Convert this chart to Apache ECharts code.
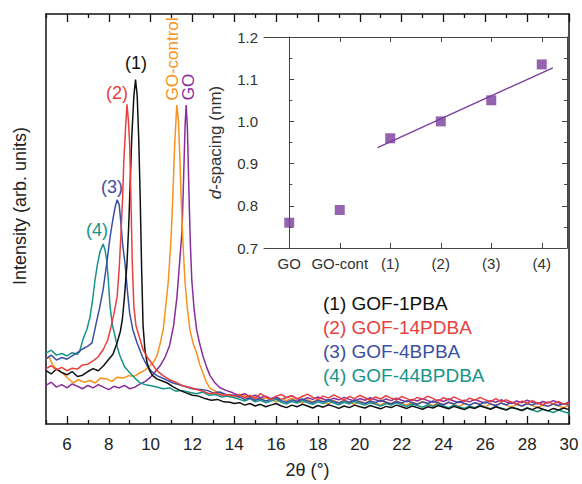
<!DOCTYPE html>
<html><head><meta charset="utf-8">
<script src="https://cdn.jsdelivr.net/npm/echarts@6/dist/echarts.min.js"></script>
<style>html,body{margin:0;padding:0;background:#fff}#c{width:582px;height:484px}</style>
</head><body><div id="c"></div>
<script>
// ---- main XRD data (2θ, intensity arb. units) ----
const blackCore = [[5.0,13.0],[5.25,12.2],[5.5,13.4],[5.75,12.6],[6.0,12.0],[6.25,12.8],[6.5,11.6],[6.75,11.9],[7.0,12.8],[7.25,13.5],[7.5,13.0],[7.75,14.2],[8.0,15.8],[8.2,17.0],[8.4,19.8],[8.55,22.5],[8.65,25.5],[8.75,31],[8.87,39],[8.95,48],[9.02,58],[9.1,70],[9.2,80],[9.28,84],[9.36,80],[9.43,70],[9.5,56],[9.57,38],[9.64,24],[9.73,18],[9.83,15],[9.95,13],[10.1,11.8],[10.3,11.0],[10.5,10.6],[10.8,10.0],[11.1,9.0],[11.4,8.2],[11.7,7.6],[12.0,7.0],[12.3,6.8],[12.6,6.2],[12.9,5.8],[13.2,6.0],[13.5,5.4],[13.8,5.3],[14.0,5.0]];
const redCore = [[5.0,13.5],[5.25,14.2],[5.5,13.2],[5.75,13.8],[6.0,13.0],[6.25,13.6],[6.5,13.4],[6.75,14.4],[7.0,14.6],[7.25,15.4],[7.5,16.4],[7.75,18.3],[7.95,20.5],[8.1,23.5],[8.25,27],[8.4,31],[8.5,38],[8.58,46],[8.66,55],[8.72,64],[8.8,72],[8.87,78],[8.94,74],[9.0,68],[9.06,55],[9.12,40],[9.2,28.7],[9.3,24],[9.45,21.4],[9.65,18],[9.85,16.2],[10.0,15.2],[10.3,13],[10.6,11.8],[10.9,10.8],[11.2,10.2],[11.5,9.4],[11.9,8.9],[12.2,8.4],[12.5,8.0],[12.8,7.4],[13.1,7.6],[13.4,7.0],[13.7,7.2],[14.0,6.8]];
const blueCore = [[5.0,15.9],[5.25,16.8],[5.5,15.6],[5.75,16.2],[6.0,15.8],[6.25,16.6],[6.5,17.4],[6.75,18.3],[7.0,19.0],[7.2,19.8],[7.4,24.6],[7.55,28],[7.73,32.8],[7.9,39],[8.06,45.5],[8.2,50],[8.3,52.8],[8.4,54.7],[8.5,53.5],[8.58,49],[8.66,44],[8.78,39],[8.9,32],[9.0,27],[9.15,23],[9.35,19.8],[9.6,16.5],[9.83,14.2],[10.05,12.8],[10.3,11.8],[10.7,10.9],[11.07,10.0],[11.5,9.4],[12.0,8.6],[12.4,8.4],[12.7,8.2],[13.0,7.6],[13.3,7.8],[13.6,7.2],[14.0,7.0]];
const tealCore = [[5.0,17.3],[5.25,18.0],[5.5,16.8],[5.75,17.2],[6.0,16.6],[6.25,17.4],[6.5,17.0],[6.6,17.6],[6.77,20.7],[6.95,23],[7.1,26],[7.22,30],[7.34,35],[7.46,39],[7.58,42],[7.73,43.9],[7.82,42.5],[7.9,40],[7.98,35],[8.06,28.7],[8.18,24],[8.3,21.4],[8.42,18.5],[8.54,16.6],[8.75,14],[9.0,12.5],[9.25,11.2],[9.5,10.0],[9.75,9.6],[9.97,9.4],[10.3,9.0],[10.6,8.6],[10.9,8.8],[11.2,8.0],[11.5,8.2],[11.9,7.7],[12.2,7.4],[12.5,7.8],[12.8,7.0],[13.1,7.2],[13.4,6.6],[13.7,6.8],[14.0,6.4]];
const orangeCore = [[5.0,15.9],[5.15,16.4],[5.3,14.6],[5.5,13.4],[5.75,12.6],[6.0,11.4],[6.3,10.0],[6.55,10.8],[6.8,10.2],[7.1,10.6],[7.35,10.0],[7.6,11.2],[7.9,11.0],[8.15,10.4],[8.4,11.4],[8.7,11.2],[8.95,11.8],[9.2,11.6],[9.5,12.5],[9.75,13.2],[9.97,14.2],[10.15,15.2],[10.3,16.6],[10.45,19.5],[10.6,23],[10.73,29],[10.85,35],[10.95,43],[11.02,50],[11.08,58],[11.15,68],[11.25,77.8],[11.33,74],[11.4,65],[11.46,55],[11.55,44],[11.64,35],[11.76,28],[11.88,23],[12.04,19.5],[12.2,17.3],[12.35,14.5],[12.5,12.5],[12.65,10.4],[12.84,8.7],[13.1,8.0],[13.35,7.4],[13.6,7.0],[13.8,6.6],[14.0,6.8]];
const purpleCore = [[5.0,9.4],[5.25,10.2],[5.5,9.0],[5.75,9.6],[6.0,8.8],[6.25,9.8],[6.5,9.2],[6.75,8.6],[7.0,9.4],[7.25,8.8],[7.5,9.6],[7.75,9.0],[8.0,8.4],[8.25,9.2],[8.5,8.8],[8.75,9.4],[9.0,8.6],[9.25,9.0],[9.5,9.8],[9.75,10.4],[9.97,11.3],[10.2,12.6],[10.45,14.2],[10.7,16.4],[10.9,19],[11.1,24],[11.26,31],[11.38,39],[11.5,47],[11.55,55],[11.6,64],[11.65,73],[11.7,77.8],[11.76,72],[11.84,55],[11.9,44],[11.97,35],[12.08,28],[12.2,23],[12.35,19.5],[12.5,16.6],[12.67,14],[12.84,11.8],[13.05,10.2],[13.3,8.9],[13.6,8.2],[13.9,7.7],[14.0,7.4]];

const tailX = [14.25,14.5,14.75,15,15.25,15.5,15.75,16,16.25,16.5,16.75,17,17.25,17.5,17.75,18,18.25,18.5,18.75,19,19.25,19.5,19.75,20,20.25,20.5,20.75,21,21.25,21.5,21.75,22,22.25,22.5,22.75,23,23.25,23.5,23.75,24,24.25,24.5,24.75,25,25.25,25.5,25.75,26,26.25,26.5,26.75,27,27.25,27.5,27.75,28,28.25,28.5,28.75,29,29.25,29.5,29.75,30];
const blackTail = [5.2,4.6,5.0,4.4,4.8,4.2,4.6,5.0,4.4,4.0,4.6,4.2,4.8,4.4,3.9,4.5,4.1,4.7,4.3,3.8,4.4,4.0,4.6,4.2,3.9,4.5,4.1,3.7,4.3,4.0,4.6,4.2,3.8,4.4,4.0,3.6,4.2,3.9,4.5,4.1,3.7,4.3,3.9,3.5,4.1,3.8,4.4,4.0,3.6,4.2,3.8,3.4,4.0,3.7,3.3,3.9,3.5,4.1,3.6,3.2,3.8,3.4,3.9,3.5];
const redTail = [7.2,6.4,7.0,6.2,7.4,6.6,6.0,6.8,7.2,6.4,6.9,6.1,6.7,7.3,6.5,6.0,6.8,6.3,7.1,6.5,5.9,6.7,6.2,7.0,6.4,5.8,6.6,6.1,6.9,6.3,5.9,6.7,6.2,5.7,6.5,6.0,6.8,6.2,5.6,6.4,5.9,6.6,6.0,5.5,6.3,5.8,6.5,5.9,5.4,6.2,5.4,5.9,5.3,4.9,5.6,5.1,5.7,5.1,4.7,5.4,4.9,5.5,4.8,5.1];
const blueTail = [6.6,6.0,6.4,5.8,6.2,5.6,6.0,6.4,5.7,5.3,5.9,5.5,6.1,5.6,5.2,5.8,5.4,6.0,5.5,5.1,5.7,5.3,5.9,5.4,5.0,5.6,5.2,5.8,5.3,4.9,5.5,5.1,5.7,5.2,4.8,5.4,5.0,5.6,5.1,4.7,5.3,4.9,5.5,5.0,4.6,5.2,4.8,5.4,4.9,4.5,5.1,4.7,5.3,4.8,4.4,5.0,4.6,5.2,4.7,4.3,4.9,4.5,5.0,4.6];
const tealTail = [6.0,5.6,6.2,5.4,5.8,5.2,5.6,6.0,5.3,4.9,5.5,5.1,5.7,5.2,4.8,5.4,5.0,5.6,5.1,4.7,5.3,4.9,5.5,5.0,4.6,5.2,4.8,4.4,5.0,4.6,5.2,4.7,4.3,4.9,4.5,4.1,4.7,4.3,4.9,4.4,4.0,4.6,4.2,3.8,4.4,4.0,4.6,4.1,3.7,4.3,3.9,3.5,4.1,3.7,3.3,3.9,3.4,3.0,3.6,3.2,2.8,3.4,3.0,2.6];
const orangeTail = [6.4,7.0,6.2,6.6,5.8,6.4,6.0,5.4,6.2,5.7,6.3,5.6,5.1,5.9,5.4,6.0,5.5,4.9,5.7,5.2,5.8,5.3,4.8,5.6,5.1,5.7,5.2,4.6,5.4,5.0,5.6,5.1,4.6,5.3,4.9,5.5,5.0,4.5,5.2,4.7,5.3,4.8,4.3,5.0,4.6,5.2,4.7,4.2,4.9,4.5,5.1,4.6,4.1,4.8,4.4,5.0,4.5,4.0,4.7,4.3,4.9,4.4,4.0,4.6];
const purpleTail = [7.0,7.4,6.6,7.0,6.4,6.8,6.2,6.6,6.0,6.5,6.9,6.2,5.8,6.4,6.0,6.6,6.1,5.7,6.3,5.9,6.5,6.0,5.6,6.2,5.8,6.4,5.9,5.5,6.1,5.7,6.3,5.8,5.4,6.0,5.6,6.2,5.7,5.3,5.9,5.5,6.1,5.6,5.2,5.8,5.4,6.0,5.5,5.1,5.7,5.3,5.9,5.4,5.0,5.6,5.2,5.8,5.3,4.9,5.5,5.1,5.7,5.2,4.8,5.4];

const xMajorTicks = [6,8,10,12,14,16,18,20,22,24,26,28,30];
const xMinorTicks = [5,7,9,11,13,15,17,19,21,23,25,27,29];

// ---- inset data ----
const insetCats = ['GO','GO-cont','(1)','(2)','(3)','(4)'];
const insetD = [0.76,0.79,0.96,1.0,1.05,1.135];
const fitLine = [[1.75,0.938],[5.22,1.127]];

const legendLabels = ['(1) GOF-1PBA','(2) GOF-14PDBA','(3) GOF-4BPBA','(4) GOF-44BPDBA'];

const C = {black:'#111111', red:'#E8403F', blue:'#3B50A5', teal:'#17948A', orange:'#F7921E', purple:'#8A2D9C', inset:'#7B3D9E'};
const FF = "'Liberation Sans', Arial, Helvetica, sans-serif";

function build(core, tail){
  const out = core.slice();
  const n = Math.min(tailX.length, tail.length);
  for (let i=0;i<n;i++) out.push([tailX[i], tail[i]]);
  return out;
}
function line(name, core, tail, color){
  return {name, type:'line', xAxisIndex:0, yAxisIndex:0, data:build(core, tail), showSymbol:false, symbol:'none',
    lineStyle:{color, width:1.5}, itemStyle:{color}, silent:true, z:2};
}

const chart = echarts.init(document.getElementById('c'), null, {renderer:'svg'});
const tickStyle = {color:'#111', width:1.3};
const insetTick = {color:'#444', width:1};

chart.setOption({
  animation:false,
  backgroundColor:'#fff',
  textStyle:{fontFamily:FF},
  grid:[
    {left:46, right:13, top:14, bottom:55, show:false},
    {left:264, top:37, width:303, height:211, show:true, backgroundColor:'#fff', borderWidth:0, z:5}
  ],
  xAxis:[
    {gridIndex:0, type:'value', min:5, max:30, position:'bottom',
     axisLine:{show:true, lineStyle:{color:'#111', width:1.5}},
     axisTick:{show:true, inside:true, length:8, customValues:xMajorTicks, lineStyle:tickStyle},
     axisLabel:{show:true, customValues:xMajorTicks, fontSize:17, color:'#222', margin:12, fontFamily:FF},
     splitLine:{show:false},
     name:'2θ (°)', nameLocation:'middle', nameGap:37, nameTextStyle:{fontSize:18, color:'#222', fontFamily:FF}},
    {gridIndex:0, type:'value', min:5, max:30, position:'bottom',
     axisLine:{show:false}, axisTick:{show:true, inside:true, length:4, customValues:xMinorTicks, lineStyle:tickStyle},
     axisLabel:{show:false}, splitLine:{show:false}},
    {gridIndex:0, type:'value', min:5, max:30, position:'top',
     axisLine:{show:true, lineStyle:{color:'#111', width:1.5}},
     axisTick:{show:true, inside:true, length:8, customValues:xMajorTicks, lineStyle:tickStyle},
     axisLabel:{show:false}, splitLine:{show:false}},
    {gridIndex:0, type:'value', min:5, max:30, position:'top',
     axisLine:{show:false}, axisTick:{show:true, inside:true, length:4, customValues:xMinorTicks, lineStyle:tickStyle},
     axisLabel:{show:false}, splitLine:{show:false}},
    {gridIndex:1, type:'category', data:insetCats, position:'bottom', boundaryGap:true,
     axisLine:{show:true, lineStyle:{color:'#444', width:1}},
     axisTick:{show:true, inside:true, alignWithLabel:true, interval:0, length:5, lineStyle:insetTick},
     axisLabel:{fontSize:15, color:'#333', margin:8, interval:0, fontFamily:FF}, splitLine:{show:false}, z:6},
    {gridIndex:1, type:'category', data:insetCats, position:'top', boundaryGap:true,
     axisLine:{show:true, lineStyle:{color:'#444', width:1}},
     axisTick:{show:true, inside:true, alignWithLabel:true, interval:0, length:5, lineStyle:insetTick},
     axisLabel:{show:false}, splitLine:{show:false}, z:6},
    {gridIndex:1, type:'value', min:-0.5, max:5.5, show:false}
  ],
  yAxis:[
    {gridIndex:0, type:'value', min:0, max:100, position:'left',
     axisLine:{show:true, lineStyle:{color:'#111', width:1.5}}, axisTick:{show:false}, axisLabel:{show:false}, splitLine:{show:false}},
    {gridIndex:0, type:'value', min:0, max:100, position:'right',
     axisLine:{show:true, lineStyle:{color:'#111', width:1.5}}, axisTick:{show:false}, axisLabel:{show:false}, splitLine:{show:false}},
    {gridIndex:1, type:'value', min:0.7, max:1.2, interval:0.1, position:'left',
     axisLine:{show:true, lineStyle:{color:'#444', width:1}},
     axisTick:{show:true, inside:true, length:5, lineStyle:insetTick},
     minorTick:{show:true, splitNumber:2, length:3, lineStyle:insetTick},
     axisLabel:{fontSize:15, color:'#333', margin:6, fontFamily:FF, formatter:v=>v.toFixed(1)},
     splitLine:{show:false},
     name:'{i|d}-spacing (nm)', nameLocation:'middle', nameGap:40,
     nameTextStyle:{fontSize:17, color:'#333', fontFamily:FF, rich:{i:{fontStyle:'italic', fontSize:17, color:'#333', fontFamily:FF}}}, z:6},
    {gridIndex:1, type:'value', min:0.7, max:1.2, interval:0.1, position:'right',
     axisLine:{show:true, lineStyle:{color:'#444', width:1}},
     axisTick:{show:true, inside:true, length:5, lineStyle:insetTick},
     minorTick:{show:true, splitNumber:2, length:3, lineStyle:insetTick},
     axisLabel:{show:false}, splitLine:{show:false}, z:6}
  ],
  series:[
    line('GO', purpleCore, purpleTail, C.purple),
    line('GO-control', orangeCore, orangeTail, C.orange),
    line('(4)', tealCore, tealTail, C.teal),
    line('(3)', blueCore, blueTail, C.blue),
    line('(1)', blackCore, blackTail, C.black),
    line('(2)', redCore, redTail, C.red),
    {type:'line', xAxisIndex:6, yAxisIndex:2, data:fitLine, showSymbol:false, symbol:'none',
     lineStyle:{color:C.inset, width:1.3}, silent:true, z:7},
    {type:'scatter', xAxisIndex:4, yAxisIndex:2, data:insetD, symbol:'rect', symbolSize:10,
     itemStyle:{color:C.inset}, silent:true, z:8}
  ],
  graphic:[
    {type:'text', x:20, y:206, rotation:Math.PI/2, style:{text:'Intensity (arb. units)', fill:'#222', fontSize:18, fontFamily:FF, align:'center', verticalAlign:'middle'}},
    {type:'text', x:136, y:63, style:{text:'(1)', fill:C.black, fontSize:18, fontFamily:FF, align:'center', verticalAlign:'middle'}},
    {type:'text', x:117, y:93, style:{text:'(2)', fill:C.red, fontSize:18, fontFamily:FF, align:'center', verticalAlign:'middle'}},
    {type:'text', x:112, y:187, style:{text:'(3)', fill:C.blue, fontSize:18, fontFamily:FF, align:'center', verticalAlign:'middle'}},
    {type:'text', x:97, y:230, style:{text:'(4)', fill:C.teal, fontSize:18, fontFamily:FF, align:'center', verticalAlign:'middle'}},
    {type:'text', x:172, y:59, rotation:Math.PI/2, style:{text:'GO-control', fill:C.orange, fontSize:17, fontFamily:FF, align:'center', verticalAlign:'middle'}},
    {type:'text', x:188, y:87, rotation:Math.PI/2, style:{text:'GO', fill:C.purple, fontSize:17, fontFamily:FF, align:'center', verticalAlign:'middle'}},
    {type:'text', x:323, y:303, style:{text:legendLabels[0], fill:C.black, fontSize:19, fontFamily:FF, align:'left', verticalAlign:'middle'}},
    {type:'text', x:323, y:327, style:{text:legendLabels[1], fill:C.red, fontSize:19, fontFamily:FF, align:'left', verticalAlign:'middle'}},
    {type:'text', x:323, y:351, style:{text:legendLabels[2], fill:C.blue, fontSize:19, fontFamily:FF, align:'left', verticalAlign:'middle'}},
    {type:'text', x:323, y:375, style:{text:legendLabels[3], fill:C.teal, fontSize:19, fontFamily:FF, align:'left', verticalAlign:'middle'}}
  ]
});
</script>
</body></html>
